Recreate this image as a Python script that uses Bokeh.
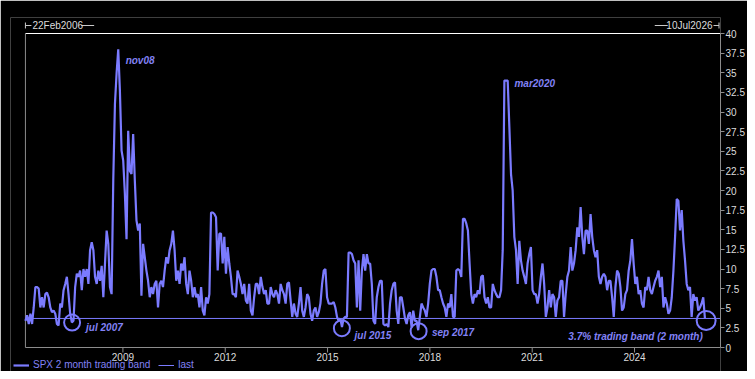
import numpy as np
from bokeh.plotting import figure
from bokeh.core.properties import value
from bokeh.models import (Range1d, FixedTicker, NumeralTickFormatter, Label,
                          Legend, LegendItem, ColumnDataSource)
from bokeh.embed import file_html
from bokeh.resources import INLINE

# ---------------- data ----------------
START_YEAR = 2006.142   # 22Feb2006
END_YEAR = 2026.521     # 10Jul2026
STEP_YEARS = 0.04859    # spacing of the traced observations (~2.5 weeks)

band_2006_2016 = [
    3.4, 4.1, 3.0, 4.3, 3.0, 5.1, 7.7, 7.7, 7.5, 5.1,
    6.4, 5.1, 6.8, 7.0, 6.4, 5.1, 4.5, 4.7, 4.3, 3.0,
    2.8, 5.6, 5.1, 7.3, 8.1, 9.0, 6.8, 4.3, 3.2, 3.4,
    7.7, 9.4, 9.0, 9.8, 7.3, 10.0, 9.0, 10.0, 8.1, 12.4,
    13.4, 12.4, 9.0, 8.1, 9.8, 8.5, 10.4, 6.4, 10.7, 14.9,
    13.2, 7.7, 6.8, 21.3, 31.0, 34.9, 38.0, 32.7, 25.1, 23.8,
    19.6, 13.8, 27.6, 22.5, 22.1, 27.2, 21.3, 16.2, 14.9, 15.8,
    6.6, 13.2, 11.5, 9.8, 8.5, 6.4, 7.7, 6.8, 8.1, 8.5,
    5.1, 8.1, 8.5, 7.7, 9.8, 11.5, 10.7, 12.4, 13.2, 14.9,
    12.4, 8.5, 9.8, 8.1, 10.7, 9.8, 11.5, 8.1, 6.8, 9.8,
    8.5, 6.4, 7.7, 6.4, 6.8, 5.1, 7.7, 4.7, 4.1, 6.4,
    5.6, 6.8, 17.2, 17.2, 17.0, 16.6, 9.8, 14.5, 14.5, 10.7,
    14.1, 9.4, 12.8, 10.7, 9.0, 6.8, 6.8, 6.4, 9.8, 9.0,
    8.1, 6.8, 8.1, 6.0, 5.6, 8.1, 4.7, 4.1, 6.4, 8.1,
    8.1, 6.8, 9.0, 7.7, 6.8, 7.3, 5.6, 5.6, 7.7, 6.8,
    6.4, 7.3, 6.8, 5.6, 8.1, 7.3, 6.8, 5.6, 8.1, 8.3,
    6.0, 3.9, 5.6, 4.3, 3.9, 5.6, 7.7, 4.7, 3.9, 5.1,
    6.8, 6.4, 4.3, 3.4, 4.7, 5.1, 3.9, 4.5, 5.6, 8.1,
    9.8, 10.0, 6.4, 5.6, 5.6, 5.6, 5.8, 5.1, 3.9, 3.4,
    3.7, 2.6, 3.7, 3.9, 3.9, 12.1, 12.1, 11.9, 11.1, 10.7,
    5.1, 11.1, 4.7, 9.8, 11.9, 9.8, 11.9, 10.7, 10.7,
]
band_2016_2026 = [
    8.1, 3.4, 3.0, 6.4, 7.7, 8.5, 8.5, 3.0, 2.8, 3.0,
    2.6, 5.6, 7.3, 8.1, 8.3, 4.7, 3.0, 6.4, 6.4, 5.1,
    3.7, 3.0, 4.1, 4.5, 2.6, 4.7, 3.4, 3.4, 2.2, 3.9,
    5.6, 5.1, 4.7, 3.9, 5.6, 8.1, 9.8, 10.0, 10.0, 9.0,
    7.3, 7.3, 6.4, 5.6, 5.1, 3.9, 5.6, 5.1, 6.8, 3.9,
    3.9, 9.8, 10.0, 9.8, 9.0, 16.4, 16.4, 15.8, 14.9, 10.7,
    6.8, 5.6, 6.8, 6.4, 7.3, 6.8, 9.0, 9.2, 6.4, 5.6,
    6.4, 5.1, 5.1, 8.1, 7.3, 6.8, 6.4, 6.4, 7.3, 12.4,
    34.0, 34.0, 34.0, 28.1, 22.1, 20.0, 14.1, 12.4, 8.1, 13.6,
    11.1, 9.8, 9.0, 8.1, 10.7, 11.9, 12.8, 7.3, 6.8, 6.8,
    5.6, 6.8, 9.0, 10.7, 8.1, 3.9, 5.1, 7.3, 5.1, 6.8,
    6.4, 3.9, 6.0, 6.4, 8.5, 8.5, 3.9, 6.8, 9.0, 9.8,
    12.8, 9.8, 10.7, 12.4, 15.3, 14.1, 17.9, 14.1, 11.9, 14.9,
    14.9, 13.2, 17.0, 14.1, 12.4, 11.5, 12.4, 9.0, 8.1, 9.0,
    9.4, 9.0, 7.3, 8.5, 8.5, 6.4, 3.9, 7.7, 9.8, 9.4,
    7.7, 4.7, 5.1, 6.8, 7.3, 9.8, 11.1, 13.8, 10.7, 8.1,
    9.0, 6.8, 7.3, 5.6, 5.1, 7.7, 7.3, 9.0, 7.3, 6.8,
    7.7, 8.5, 9.0, 9.8, 7.7, 9.0, 5.1, 6.4, 5.6, 4.3,
    4.7, 6.4, 9.8, 14.1, 18.9, 18.7, 14.9, 17.5, 13.6, 11.1,
    8.1, 7.3, 7.7, 3.9, 6.8, 6.0, 6.4, 4.7, 5.1, 5.6,
    6.4, 3.7,
]
last_value = 3.7

x_ticks = [2009, 2012, 2015, 2018, 2021, 2024]
x_tick_labels = ["2009", "2012", "2015", "2018", "2021", "2024"]
y_ticks = [0, 2.5, 5, 7.5, 10, 12.5, 15, 17.5, 20, 22.5, 25, 27.5, 30, 32.5, 35, 37.5, 40]
Y_MAX = 40

start_label = "22Feb2006"
end_label = "10Jul2026"

note_text = ["nov08", "mar2020", "jul 2007", "jul 2015", "sep 2017", "3.7% trading band (2 month)"]
note_x = [2009.08, 2020.48, 2007.92, 2015.79, 2018.06, 2022.06]
note_y = [36.5, 33.6, 2.6, 1.5, 1.85, 1.35]

ring_x = [2007.51, 2015.42, 2017.67, 2026.10]
ring_y = [3.18, 2.46, 2.08, 3.44]
ring_size = [16, 16, 16, 19]

# ---------------- styling / layout ----------------
LINE = "#7b7bff"
TEXT = "#8282f6"
AXIS = "#8c8c8c"
TICKLBL = "#dcdcdc"
BR = "#c8c8c8"
FONT = "Liberation Sans"

W, H = 747, 371
FRAME_L, CHART_L, CHART_R = 10, 25, 723   # frame left, chart left, chart/frame right (px)
FRAME_T, CHART_T, CHART_B = 17, 33, 347   # frame top, chart top, chart bottom (px)
ppu = (CHART_B - CHART_T) / Y_MAX                    # px per y unit
dxp = (END_YEAR - START_YEAR) / (CHART_R - CHART_L)  # years per px
dyp = 1.0 / ppu
x_lo = START_YEAR - (CHART_L - FRAME_L) * dxp
y_lo = -(H - CHART_B) * dyp
y_hi = Y_MAX + (CHART_T - FRAME_T) * dyp

band = band_2006_2016 + band_2016_2026
x = START_YEAR + STEP_YEARS * np.arange(len(band))
src = ColumnDataSource(dict(x=x, y=band))

p = figure(width=W, height=H,
           x_range=Range1d(x_lo, END_YEAR), y_range=Range1d(y_lo, y_hi),
           y_axis_location="right",
           output_backend="svg", toolbar_location=None,
           background_fill_color="black", border_fill_color="black",
           min_border_left=FRAME_L, min_border_right=W - CHART_R,
           min_border_top=FRAME_T, min_border_bottom=0)
p.grid.visible = False
p.outline_line_color = None
p.xaxis.visible = False

# right value axis (real axis, limited to 0..40)
ya = p.yaxis[0]
ya.bounds = (0, Y_MAX)
ya.ticker = FixedTicker(ticks=y_ticks)
ya.formatter = NumeralTickFormatter(format="0.[0]")
ya.axis_line_color = AXIS
ya.major_tick_line_color = AXIS
ya.major_tick_out = 4
ya.major_tick_in = 0
ya.minor_tick_line_color = None
ya.major_label_standoff = 1
ya.major_label_text_color = TICKLBL
ya.major_label_text_font = FONT
ya.major_label_text_font_size = "10px"

# chart box: white top, gray left and bottom
p.segment([START_YEAR], [Y_MAX], [END_YEAR], [Y_MAX], line_color="white", line_width=1)
p.segment([START_YEAR, START_YEAR], [0, 0], [START_YEAR, END_YEAR], [Y_MAX, 0],
          line_color=AXIS, line_width=1)

# time axis ticks and labels
n = len(x_ticks)
p.segment(x_ticks, [0] * n, x_ticks, [-5 * dyp] * n, line_color=AXIS, line_width=1)
p.text(x=x_ticks, y=[-9.5 * dyp] * n, text=x_tick_labels, text_align="center",
       text_baseline="middle", text_font=value(FONT), text_font_size=value("10px"),
       text_color=TICKLBL)

# data
r_band = p.line("x", "y", source=src, line_color=LINE, line_width=2.2)
r_last = p.line([START_YEAR, END_YEAR], [last_value, last_value], line_color=LINE, line_width=1)

p.scatter(ring_x, ring_y, size=ring_size, marker="circle", fill_color=None,
          line_color=LINE, line_width=2)

for t, nx, ny in zip(note_text, note_x, note_y):
    p.add_layout(Label(x=nx, y=ny, text=t, text_baseline="middle", text_align="left",
                       text_font=FONT, text_font_style="bold italic",
                       text_font_size="10px", text_color=TEXT))

# top date brackets
ytop = Y_MAX + 8 * dyp
ylo_b, yhi_b = Y_MAX + 5 * dyp, Y_MAX + 11 * dyp
xr = END_YEAR - 1.5 * dxp
seg_x0 = [START_YEAR, START_YEAR, START_YEAR + 56 * dxp, xr, END_YEAR - 7 * dxp, END_YEAR - 66 * dxp]
seg_x1 = [START_YEAR, START_YEAR + 6 * dxp, START_YEAR + 69 * dxp, xr, xr, END_YEAR - 53 * dxp]
seg_y0 = [ylo_b, ytop, ytop, ylo_b, ytop, ytop]
seg_y1 = [yhi_b, ytop, ytop, yhi_b, ytop, ytop]
p.segment(seg_x0, seg_y0, seg_x1, seg_y1, line_color=BR, line_width=1)

p.add_layout(Label(x=START_YEAR, y=ytop, x_offset=7, text=start_label,
                   text_baseline="middle", text_align="left", text_font=FONT,
                   text_font_size="10px", text_color=TICKLBL))
p.add_layout(Label(x=END_YEAR, y=ytop, x_offset=-8, text=end_label,
                   text_baseline="middle", text_align="right", text_font=FONT,
                   text_font_size="10px", text_color=TICKLBL))

legend = Legend(items=[LegendItem(label="SPX 2 month trading band", renderers=[r_band]),
                       LegendItem(label="last", renderers=[r_last])],
                orientation="horizontal", location=(3, 1),
                background_fill_alpha=0, border_line_color=None,
                label_text_color=TEXT, label_text_font=FONT, label_text_font_size="10px",
                glyph_width=16, glyph_height=10, label_height=10,
                padding=0, margin=0, spacing=8, label_standoff=4)
p.add_layout(legend)

open("out.html", "w").write(file_html(p, INLINE))
